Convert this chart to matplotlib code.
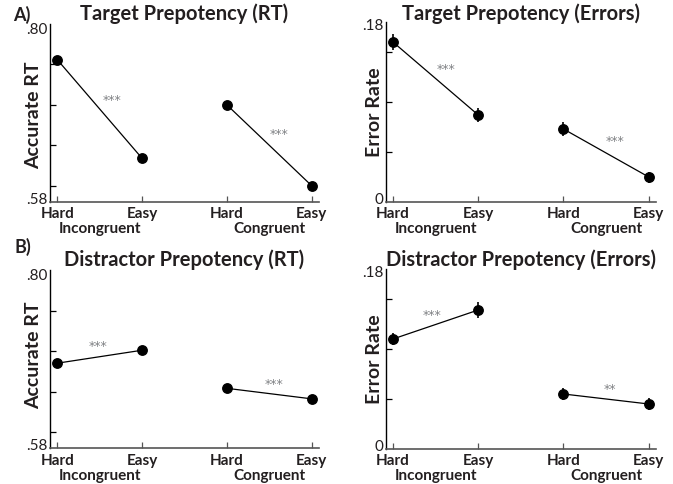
import matplotlib
matplotlib.use("Agg")
import matplotlib.pyplot as plt
from matplotlib.transforms import offset_copy

plt.rcParams['font.family'] = ['Lato', 'DejaVu Sans']

x_labels = ["Hard", "Easy", "Hard", "Easy"]
group_labels = ["Incongruent", "Congruent"]

titles = ["Target Prepotency (RT)", "Target Prepotency (Errors)",
          "Distractor Prepotency (RT)", "Distractor Prepotency (Errors)"]
ylabels = ["Accurate RT", "Error Rate", "Accurate RT", "Error Rate"]

# values: [Incongruent Hard, Incongruent Easy, Congruent Hard, Congruent Easy]
target_rt = [0.756, 0.634, 0.700, 0.600]
target_rt_err = [0.003, 0.003, 0.003, 0.003]
target_err = [0.160, 0.087, 0.073, 0.025]
target_err_err = [0.008, 0.0067, 0.007, 0.0055]
distr_rt = [0.685, 0.701, 0.654, 0.641]
distr_rt_err = [0.003, 0.003, 0.003, 0.003]
distr_err = [0.110, 0.139, 0.055, 0.045]
distr_err_err = [0.006, 0.008, 0.0063, 0.0058]

sig_labels = [["***", "***"], ["***", "***"], ["***", "***"], ["***", "**"]]
# annotation positions (x in category units, y in data units)
sig_pos = [[(0.65, 0.706), (2.61, 0.663)],
           [(0.62, 0.132), (2.61, 0.060)],
           [(0.48, 0.705), (2.56, 0.659)],
           [(0.46, 0.134), (2.55, 0.059)]]

rt_lim = (0.58, 0.80)
rt_ticks = [0.60, 0.65, 0.70, 0.75]
rt_ticklabels = [".58", ".80"]
err_lim = (0.0, 0.18)
err_ticks = [0.05, 0.10, 0.15]
err_ticklabels = ["0", ".18"]

series = [(target_rt, target_rt_err, rt_lim, rt_ticks, rt_ticklabels),
          (target_err, target_err_err, err_lim, err_ticks, err_ticklabels),
          (distr_rt, distr_rt_err, rt_lim, rt_ticks, rt_ticklabels),
          (distr_err, distr_err_err, err_lim, err_ticks, err_ticklabels)]

W, H = 673, 484
fig = plt.figure(figsize=(W / 100, H / 100), dpi=100)

def fx(x):
    return x / W

def fy(y):
    return 1 - y / H

# axes boxes in pixel coords: left, right, top(ymax), bottom(ymin)
boxes = [(50, 319, 24, 202), (385.7, 656, 22, 202),
         (50, 319, 270, 448.3), (385.7, 656, 269, 449)]
title_base = [20.5, 20, 266, 266]
ylab_pos = [(34, 115.5), (374, 112.5), (34, 355), (374, 359)]
# pixel offsets of end labels from their nominal positions (dx, dy)
end_lab_dy = [(-2, 6), (-2, 4), (-2, 6), (-2, 4)]

dark = "#231f20"
xs = [0, 1, 2, 3]

for i, (vals, errs, lim, ticks, tlabels) in enumerate(series):
    l, r, t, b = boxes[i]
    ax = fig.add_axes([fx(l), fy(b), (r - l) / W, (b - t) / H])
    ax.set_xlim(-0.085, 3.085)
    ax.set_ylim(*lim)
    for seg in [(0, 1), (2, 3)]:
        sx = [xs[k] for k in seg]
        sy = [vals[k] for k in seg]
        se = [errs[k] for k in seg]
        ax.errorbar(sx, sy, yerr=se, color="black", lw=0.9, marker="o",
                    ms=6.8, elinewidth=1.2, capsize=0, zorder=3)
    for lab, (px, py) in zip(sig_labels[i], sig_pos[i]):
        ax.text(px, py, lab, fontsize=9, color="#808285", ha="center",
                va="center", family="DejaVu Sans")
    for s in ["top", "right"]:
        ax.spines[s].set_visible(False)
    ax.spines["left"].set_color("black")
    ax.spines["left"].set_linewidth(1.0)
    ax.spines["bottom"].set_color("#555555")
    ax.spines["bottom"].set_linewidth(1.2)
    ax.set_yticks(ticks)
    ax.set_yticklabels([])
    ax.tick_params(axis="y", direction="in", length=4, width=0.9, color="black")
    ax.set_xticks(xs)
    ax.set_xticklabels([])
    ax.tick_params(axis="x", direction="in", length=4, width=0.9, color="#555555")
    # y end labels
    ex, ey = end_lab_dy[i]
    fig.text(fx(l + ex), fy(b - 2), tlabels[0], ha="right", va="center",
             fontsize=11, color=dark)
    fig.text(fx(l + ex), fy(t + ey), tlabels[1], ha="right", va="center",
             fontsize=11, color=dark)
    # x labels
    tr_hard = offset_copy(ax.get_xaxis_transform(), fig=fig, x=0, y=-16.3, units="dots")
    for xv, lab in zip(xs, x_labels):
        ax.text(xv, 0, lab, transform=tr_hard, ha="center", va="baseline",
                fontsize=11, fontweight="bold", color=dark)
    tr_grp = offset_copy(ax.get_xaxis_transform(), fig=fig, x=0, y=-31.3, units="dots")
    for gx, g in zip([0.5, 2.5], group_labels):
        ax.text(gx, 0, g, transform=tr_grp, ha="center", va="baseline",
                fontsize=11, fontweight="bold", color=dark)
    yx, yy = ylab_pos[i]
    fig.text(fx(yx), fy(yy), ylabels[i], rotation=90, ha="center", va="center",
             fontsize=14, fontweight="bold", color=dark)
    fig.text(fx((l + r) / 2), fy(title_base[i]), titles[i], ha="center",
             va="baseline", fontsize=14.5, fontweight="bold", color=dark)

fig.text(fx(13), fy(15), "A)", fontsize=13, fontweight="bold", color=dark,
         ha="left", va="center")
fig.text(fx(15), fy(247), "B)", fontsize=13, fontweight="bold", color=dark,
         ha="left", va="center")

fig.savefig("out.png", dpi=100)
